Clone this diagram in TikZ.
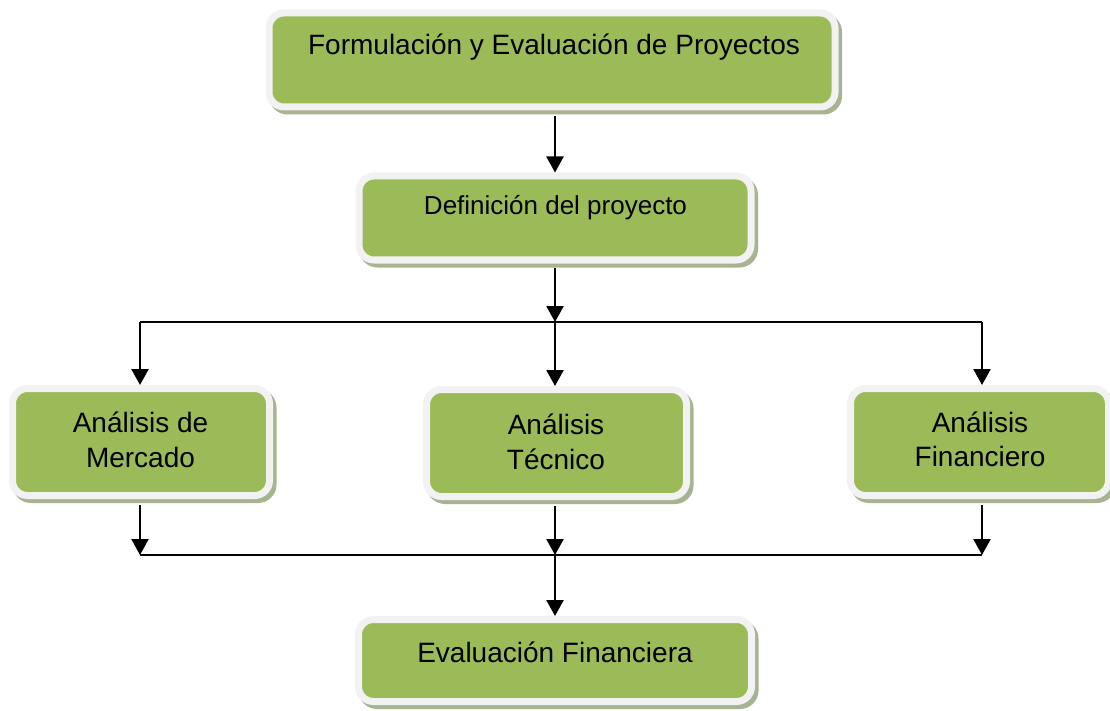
\documentclass[tikz,border=0pt]{standalone}
\usepackage{fontspec}
\setmainfont{Liberation Sans}
\usetikzlibrary{arrows.meta}
\definecolor{boxgreen}{HTML}{9BBB59}
\definecolor{framecol}{HTML}{F2F2F2}
\definecolor{shadowcol}{HTML}{A7B391}
\begin{document}
\begin{tikzpicture}[x=1pt,y=-1pt,
  greenbox/.style={rectangle, rounded corners=15pt, draw=framecol, line width=7pt,
    fill=boxgreen, inner sep=0pt,
    preaction={draw=shadowcol, fill=shadowcol, line width=7pt,
      transform canvas={xshift=3.5pt,yshift=-4pt}}},
  txt/.style={anchor=base, inner sep=0pt, font=\fontsize{28}{35}\selectfont},
  conn/.style={line width=2.3pt},
  arr/.style={line width=2.3pt, -{Triangle[width=17pt,length=16pt]}}]
\useasboundingbox (0,0) rectangle (1110,711);
% boxes
\node[greenbox, minimum width=566pt, minimum height=94pt] (b1) at (552,60) {};
\node[greenbox, minimum width=392pt, minimum height=84pt] (b2) at (555,218) {};
\node[greenbox, minimum width=257pt, minimum height=107pt] (b3) at (141,442) {};
\node[greenbox, minimum width=260pt, minimum height=107pt] (b4) at (556.5,443) {};
\node[greenbox, minimum width=258pt, minimum height=107pt] (b5) at (979.5,442) {};
\node[greenbox, minimum width=393pt, minimum height=82pt] (b6) at (555,660.5) {};
% texts
\node[txt] (t1) at (554,55) {Formulación y Evaluación de Proyectos};
\node[txt, font=\fontsize{26}{32}\selectfont] (t2) at (555.5,215) {Definición del proyecto};
\node[txt] (t3a) at (140.5,432) {Análisis de};
\node[txt] (t3b) at (140.5,467) {Mercado};
\node[txt] (t4a) at (556,434) {Análisis};
\node[txt] (t4b) at (556,469) {Técnico};
\node[txt] (t5a) at (980,432) {Análisis};
\node[txt] (t5b) at (980,466) {Financiero};
\node[txt] (t6) at (555,662) {Evaluación Financiera};
% junction coordinates
\coordinate (jT) at (555,322);
\coordinate (jTL) at (140,322);
\coordinate (jTR) at (982,322);
\coordinate (jB) at (555,555);
\coordinate (jBL) at (140,555);
\coordinate (jBR) at (982,555);
% connectors
\draw[arr] (b1.south -| b2.north) ++(0,6) -- (b2.north);
\draw[arr] (b2.south) ++(0,4) -- (jT);
\draw[conn] (jTL) -- (jTR);
\draw[arr] (jTL) -- (jTL |- b3.north);
\draw[arr] (jT) -- (b4.north -| jT);
\draw[arr] (jTR) -- (jTR |- b5.north);
\draw[arr] (jBL |- b3.south) ++(0,6) -- (jBL);
\draw[arr] (b4.south -| jB) ++(0,6) -- (jB);
\draw[arr] (jBR |- b5.south) ++(0,6) -- (jBR);
\draw[conn] (jBL) -- (jBR);
\draw[arr] (jB) -- (b6.north);
\end{tikzpicture}
\end{document}
